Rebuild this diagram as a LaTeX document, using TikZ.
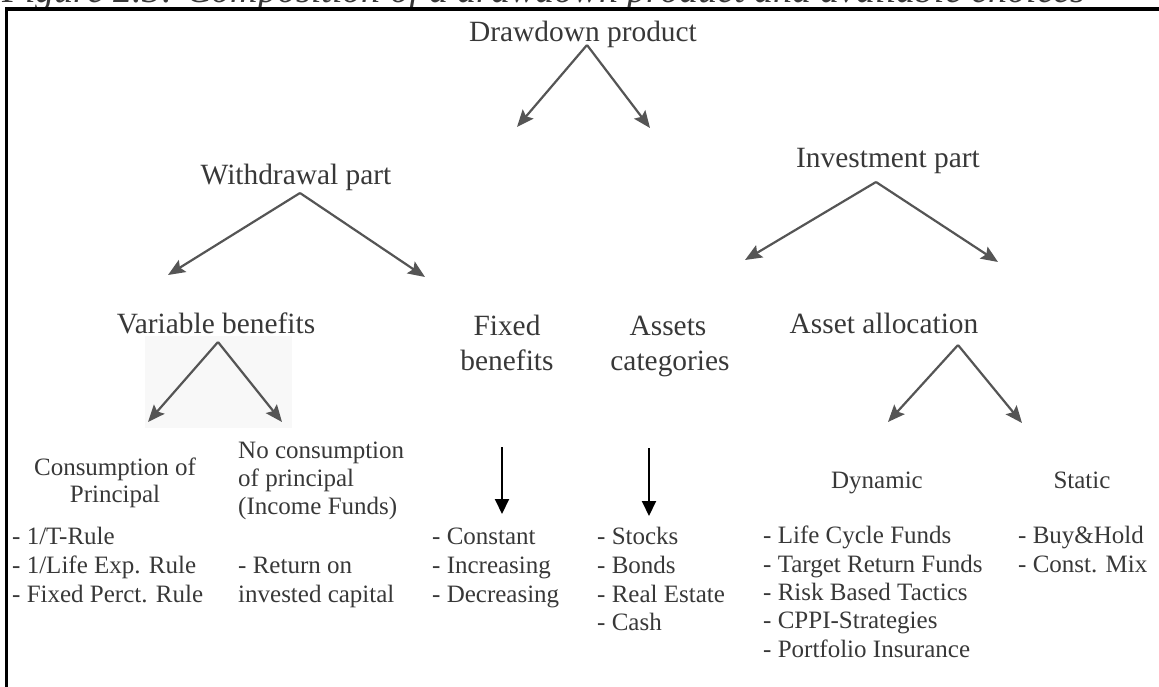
\documentclass[tikz,border=0pt]{standalone}
\usepackage{fontspec}
\setmainfont{Liberation Serif}
\usetikzlibrary{arrows.meta}
\definecolor{ink}{HTML}{383838}
\definecolor{forkgray}{HTML}{555555}
\definecolor{haze}{HTML}{F8F8F8}
\tikzset{
  hdrtext/.style={font=\fontsize{29.4}{34}\selectfont, text=ink, inner sep=0pt, anchor=base},
  subtext/.style={font=\fontsize{25}{29}\selectfont, text=ink, inner sep=0pt, anchor=base},
  listtext/.style={font=\fontsize{25}{29}\selectfont, text=ink, inner sep=0pt, anchor=base west},
  forkarrow/.style={draw=forkgray, line width=2.2pt, -{Stealth[length=17pt,width=14pt,inset=3pt]}},
  droparrow/.style={draw=black, line width=2pt, -{Triangle[length=15pt,width=14pt]}},
}
\begin{document}
\begin{tikzpicture}[x=1pt,y=-1pt]
\useasboundingbox (0,0) rectangle (1159,687);
\clip (0,0) rectangle (1159,687);

% caption line above the frame
\node[anchor=base west, inner sep=0pt, text=ink,
      font=\fontsize{38}{44}\selectfont\itshape] (caption) at (2,3)
  {Figure 2.3: Composition of a drawdown product and available choices};

% frame
\draw[line width=3.4pt] (1159,9) -- (6.5,9) -- (6.5,690);

% light backdrop behind the variable-benefits fork
\fill[haze] (145,336) rectangle (292,428);

% level 0
\node[hdrtext] (dp) at (583,42) {Drawdown product};

% level 1
\node[hdrtext] (wp) at (296,185) {Withdrawal part};
\node[hdrtext] (ip) at (888,168) {Investment part};

% level 2
\node[hdrtext] (vb)  at (216,333) {Variable benefits};
\node[hdrtext] (fb1) at (507,335) {Fixed};
\node[hdrtext] (fb2) at (507,370) {benefits};
\node[hdrtext] (ac1) at (668,335) {Assets};
\node[hdrtext] (ac2) at (670,370) {categories};
\node[hdrtext] (aa)  at (884,333) {Asset allocation};

% fork coordinates
\coordinate (dpApex) at (587,45);
\coordinate (dpL) at (517,127);
\coordinate (dpR) at (650,128);
\coordinate (wpApex) at (300,193);
\coordinate (wpL) at (168,275);
\coordinate (wpR) at (425,277);
\coordinate (ipApex) at (876,182);
\coordinate (ipL) at (745,260);
\coordinate (ipR) at (998,262);
\coordinate (vbApex) at (218,342);
\coordinate (vbL) at (148,422);
\coordinate (vbR) at (282,422);
\coordinate (aaApex) at (958,345);
\coordinate (aaL) at (888,422);
\coordinate (aaR) at (1022,423);
\coordinate (fbTop) at (502,447);
\coordinate (fbEnd) at (502,514);
\coordinate (acTop) at (649,448);
\coordinate (acEnd) at (649,516);

\foreach \f in {dp,wp,ip,vb,aa}{
  \draw[forkarrow] (\f Apex) -- (\f L);
  \draw[forkarrow] (\f Apex) -- (\f R);
}
\draw[droparrow] (fbTop) -- (fbEnd);
\draw[droparrow] (acTop) -- (acEnd);

% variable benefits branches
\node[subtext] (cp1) at (115,475) {Consumption of};
\node[subtext] (cp2) at (115,502) {Principal};
\node[listtext] (nc1) at (238,458) {No consumption};
\node[listtext] (nc2) at (238,486) {of principal};
\node[listtext] (nc3) at (238,514) {(Income Funds)};

\node[listtext] (cpa) at (12,544) {- 1/T-Rule};
\node[listtext] (cpb) at (12,573) {- 1/Life Exp. Rule};
\node[listtext] (cpc) at (12,602) {- Fixed Perct. Rule};
\node[listtext] (nca) at (238,573) {- Return on};
\node[listtext] (ncb) at (238,602) {invested capital};

% fixed benefits
\node[listtext] (fba) at (432,544) {- Constant};
\node[listtext] (fbb) at (432,573) {- Increasing};
\node[listtext] (fbc) at (432,602) {- Decreasing};

% asset categories
\node[listtext] (aca) at (597,544) {- Stocks};
\node[listtext] (acb) at (597,573) {- Bonds};
\node[listtext] (acc) at (597,602) {- Real Estate};
\node[listtext] (acd) at (597,630) {- Cash};

% asset allocation branches
\node[subtext] (dyn) at (877,488) {Dynamic};
\node[subtext] (sta) at (1082,488) {Static};

\node[listtext] (dya) at (763,543) {- Life Cycle Funds};
\node[listtext] (dyb) at (763,572) {- Target Return Funds};
\node[listtext] (dyc) at (763,600) {- Risk Based Tactics};
\node[listtext] (dyd) at (763,628) {- CPPI-Strategies};
\node[listtext] (dye) at (763,657) {- Portfolio Insurance};

\node[listtext] (sta1) at (1018,543) {- Buy\&Hold};
\node[listtext] (sta2) at (1018,572) {- Const. Mix};
\end{tikzpicture}
\end{document}
